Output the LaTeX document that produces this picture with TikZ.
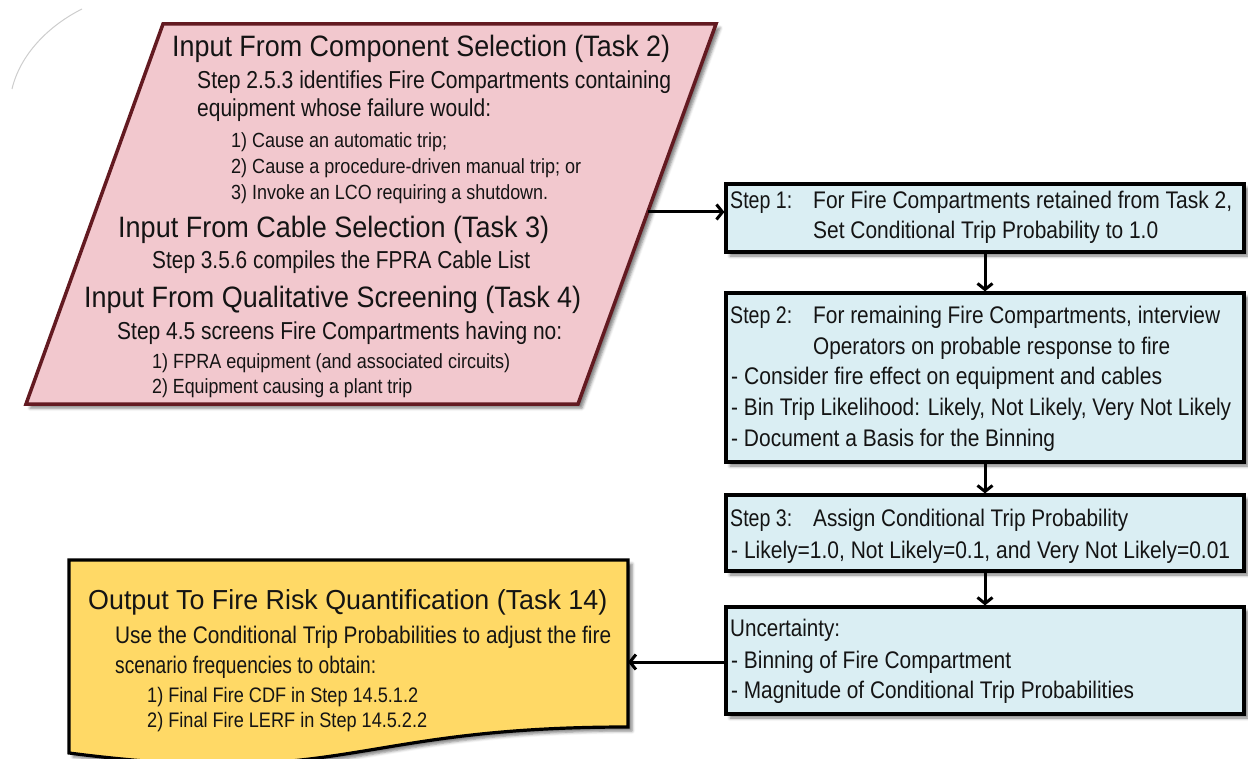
\documentclass[tikz,border=0pt]{standalone}
\usepackage{fontspec}
\setmainfont{Liberation Sans}[FakeStretch=0.85]
\usetikzlibrary{arrows.meta,shadows.blur,calc}

\definecolor{inpink}{RGB}{242,200,206}
\definecolor{inborder}{RGB}{99,26,33}
\definecolor{stepblue}{RGB}{218,238,243}
\definecolor{outyellow}{RGB}{255,217,102}
\definecolor{arcgray}{RGB}{205,205,205}
\definecolor{inktext}{RGB}{20,20,20}

% set a line of text to a given width, keeping its height
\newcommand{\fw}[2]{\resizebox{#1pt}{\height}{#2}}

\begin{document}
\begin{tikzpicture}[x=1pt,y=-1pt,
  softshadow/.style={blur shadow={shadow xshift=4pt, shadow yshift=-4pt,
      shadow blur radius=3pt, shadow opacity=50}},
  stepbox/.style={draw=black, line width=3.2pt, fill=stepblue, softshadow,
      rectangle, inner sep=0pt, minimum width=518pt},
  txt/.style={anchor=west, inner sep=0pt, text depth=0pt, text=inktext},
  ptitle/.style={txt, font=\fontsize{29.5}{32}\selectfont, text height=21pt},
  pbody/.style={txt, font=\fontsize{24.5}{27}\selectfont, text height=17.5pt},
  plist/.style={txt, font=\fontsize{20.5}{23}\selectfont, text height=14.7pt},
  btxt/.style={txt, font=\fontsize{24}{27}\selectfont, text height=17.2pt},
  ytitle/.style={txt, font=\fontsize{27.5}{30}\selectfont, text height=19.7pt},
  ybody/.style={txt, font=\fontsize{24}{27}\selectfont, text height=17.2pt},
  ylist/.style={txt, font=\fontsize{21}{24}\selectfont, text height=15pt},
  arr/.style={line width=3pt, -{Straight Barb[length=6pt,width=15pt]}}]

\useasboundingbox (0,0) rectangle (1248,759);

% faint arc in the corner
\draw[arcgray, line width=1pt] (82,9) .. controls (48,26) and (20,55) .. (12,89);

% ---- input parallelogram ----
\path[draw=inborder, line width=3.5pt, line join=miter, fill=inpink, softshadow]
  (163,24) -- (716,24) -- (578,404) -- (26,404) -- cycle;
\coordinate (inR) at (648,212);

\node[ptitle] (i1) at (172,46)  {\fw{498}{Input From Component Selection (Task 2)}};
\node[pbody]  (i2) at (197,80)  {\fw{474}{Step 2.5.3 identifies Fire Compartments containing}};
\node[pbody]  (i3) at (197,108) {\fw{294}{equipment whose failure would:}};
\node[plist]  (i4) at (231,140) {\fw{216}{1) Cause an automatic trip;}};
\node[plist]  (i5) at (231,166) {\fw{350}{2) Cause a procedure-driven manual trip; or}};
\node[plist]  (i6) at (231,192) {\fw{317}{3) Invoke an LCO requiring a shutdown.}};
\node[ptitle] (i7) at (118,227) {\fw{431}{Input From Cable Selection (Task 3)}};
\node[pbody]  (i8) at (152,260) {\fw{378}{Step 3.5.6 compiles the FPRA Cable List}};
\node[ptitle] (i9) at (84,297)  {\fw{497}{Input From Qualitative Screening (Task 4)}};
\node[pbody]  (i10) at (117,331) {\fw{445}{Step 4.5 screens Fire Compartments having no:}};
\node[plist]  (i11) at (152,361) {\fw{358}{1) FPRA equipment (and associated circuits)}};
\node[plist]  (i12) at (152,386) {\fw{260}{2) Equipment causing a plant trip}};

% ---- step boxes ----
\node[stepbox, minimum height=68pt]  (s1)  at (985,218)   {};
\node[stepbox, minimum height=169pt] (s2)  at (985,377.5) {};
\node[stepbox, minimum height=76pt]  (s3)  at (985,533)   {};
\node[stepbox, minimum height=107pt] (unc) at (985,660.5) {};

\node[btxt] (s1l) at (730,200) {\fw{62}{Step 1:}};
\node[btxt] (s1a) at (813,200) {\fw{419}{For Fire Compartments retained from Task 2,}};
\node[btxt] (s1b) at (813,230) {\fw{345}{Set Conditional Trip Probability to 1.0}};

\node[btxt] (s2l) at (730,315) {\fw{62}{Step 2:}};
\node[btxt] (s2a) at (813,315) {\fw{407}{For remaining Fire Compartments, interview}};
\node[btxt] (s2b) at (813,346) {\fw{357}{Operators on probable response to fire}};
\node[btxt] (s2c) at (731,376) {\fw{431}{- Consider fire effect on equipment and cables}};
\node[btxt] (s2d) at (731,407) {\fw{500}{- Bin Trip Likelihood: Likely, Not Likely, Very Not Likely}};
\node[btxt] (s2e) at (731,438) {\fw{324}{- Document a Basis for the Binning}};

\node[btxt] (s3l) at (730,518) {\fw{62}{Step 3:}};
\node[btxt] (s3a) at (813,518) {\fw{315}{Assign Conditional Trip Probability}};
\node[btxt] (s3b) at (731,550) {\fw{499}{- Likely=1.0, Not Likely=0.1, and Very Not Likely=0.01}};

\node[btxt] (u0) at (730,628) {\fw{110}{Uncertainty:}};
\node[btxt] (u1) at (731,660) {\fw{280}{- Binning of Fire Compartment}};
\node[btxt] (u2) at (731,690) {\fw{403}{- Magnitude of Conditional Trip Probabilities}};

% ---- output document shape ----
\path[draw=black, line width=3.2pt, fill=outyellow, softshadow]
  (69,560) -- (628,560) -- (628,727)
  .. controls (348.5,727) and (348.5,789) .. (69,753) -- cycle;
\coordinate (outE) at (628,662);

\node[ytitle] (o1) at (88,600)  {\fw{519}{Output To Fire Risk Quantification (Task 14)}};
\node[ybody]  (o2) at (115,635) {\fw{496}{Use the Conditional Trip Probabilities to adjust the fire}};
\node[ybody]  (o3) at (115,665) {\fw{261}{scenario frequencies to obtain:}};
\node[ylist]  (o4) at (147,695) {\fw{271}{1) Final Fire CDF in Step 14.5.1.2}};
\node[ylist]  (o5) at (147,720) {\fw{280}{2) Final Fire LERF in Step 14.5.2.2}};

% ---- connectors ----
\draw[arr] (inR) -- (inR -| s1.west);
\draw[arr] (s1.south) -- (s2.north);
\draw[arr] (s2.south) -- (s3.north);
\draw[arr] (s3.south) -- (unc.north);
\draw[arr] (unc.west |- outE) -- (outE);

\end{tikzpicture}
\end{document}
